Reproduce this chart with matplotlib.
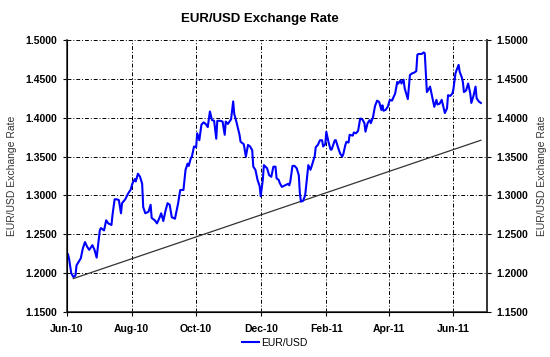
import matplotlib
matplotlib.use('Agg')
import matplotlib.pyplot as plt
import matplotlib.dates as mdates
import numpy as np
import pandas as pd

plt.rcParams['font.family'] = ['Liberation Sans', 'DejaVu Sans']

# days since 2010-06-01 and EUR/USD closes
start = pd.Timestamp('2010-06-01')
days = [0, 1, 2, 4, 6, 8, 9, 13, 15, 17, 19, 21, 24, 26, 28, 31, 32, 35, 37, 39,
        42, 43, 45, 47, 49, 51, 52, 55, 58, 60, 62, 64, 65, 67, 69, 71, 72, 74, 77, 79,
        80, 83, 85, 87, 89, 91, 93, 95, 97, 99, 102, 105, 107, 110, 112, 114, 115, 117, 118, 120,
        122, 123, 125, 127, 129, 131, 133, 135, 137, 139, 141, 142, 145, 147, 149, 150, 152, 155, 157, 158,
        160, 163, 164, 167, 169, 171, 173, 175, 176, 178, 180, 182, 183, 185, 186, 189, 191, 193, 195, 197,
        198, 200, 201, 203, 206, 209, 210, 211, 213, 215, 217, 219, 220, 221, 223, 225, 227, 228, 230, 231,
        233, 234, 235, 237, 239, 241, 242, 244, 245, 247, 249, 250, 253, 254, 256, 258, 260, 261, 263, 264,
        266, 267, 270, 271, 273, 275, 277, 279, 281, 282, 284, 286, 287, 289, 291, 293, 295, 297, 298, 299,
        301, 303, 305, 307, 310, 312, 313, 315, 316, 318, 319, 322, 323, 324, 326, 328, 330, 331, 332, 335,
        337, 338, 339, 340, 341, 343, 345, 346, 347, 349, 350, 352, 354, 356, 357, 359, 360, 362, 364, 365,
        367, 368, 370, 371, 373, 374, 375, 377, 379, 381, 382, 384, 386, 387, 389, 391]
rate = [1.226, 1.224, 1.218, 1.200, 1.195, 1.197, 1.210, 1.219, 1.232, 1.240, 1.234, 1.230, 1.236, 1.230, 1.220, 1.255, 1.258, 1.255, 1.268, 1.264,
        1.262, 1.275, 1.295, 1.295, 1.294, 1.277, 1.290, 1.295, 1.303, 1.307, 1.316, 1.321, 1.318, 1.328, 1.324, 1.315, 1.285, 1.277, 1.279, 1.288,
        1.271, 1.268, 1.264, 1.270, 1.277, 1.267, 1.280, 1.290, 1.288, 1.272, 1.270, 1.290, 1.307, 1.307, 1.333, 1.341, 1.338, 1.348, 1.350, 1.363,
        1.362, 1.380, 1.371, 1.391, 1.394, 1.392, 1.388, 1.408, 1.397, 1.396, 1.373, 1.396, 1.396, 1.395, 1.378, 1.395, 1.392, 1.398, 1.421, 1.405,
        1.395, 1.378, 1.369, 1.366, 1.350, 1.365, 1.363, 1.358, 1.337, 1.333, 1.320, 1.312, 1.299, 1.320, 1.339, 1.335, 1.326, 1.324, 1.337, 1.337,
        1.322, 1.320, 1.316, 1.311, 1.313, 1.315, 1.313, 1.318, 1.338, 1.338, 1.335, 1.326, 1.303, 1.292, 1.293, 1.300, 1.326, 1.339, 1.333, 1.337,
        1.346, 1.350, 1.362, 1.365, 1.371, 1.371, 1.363, 1.366, 1.382, 1.369, 1.359, 1.359, 1.371, 1.371, 1.362, 1.354, 1.350, 1.353, 1.365, 1.369,
        1.368, 1.378, 1.377, 1.381, 1.380, 1.383, 1.399, 1.398, 1.393, 1.382, 1.393, 1.397, 1.393, 1.400, 1.415, 1.422, 1.420, 1.410, 1.416, 1.409,
        1.410, 1.414, 1.423, 1.422, 1.431, 1.446, 1.444, 1.448, 1.444, 1.449, 1.438, 1.424, 1.440, 1.455, 1.457, 1.458, 1.460, 1.481, 1.482, 1.482,
        1.484, 1.483, 1.457, 1.433, 1.435, 1.440, 1.427, 1.420, 1.414, 1.423, 1.417, 1.418, 1.423, 1.412, 1.406, 1.412, 1.429, 1.428, 1.431, 1.436,
        1.457, 1.461, 1.468, 1.459, 1.452, 1.446, 1.433, 1.435, 1.444, 1.431, 1.419, 1.428, 1.440, 1.425, 1.421, 1.419]

trend_days = [6, 391]
trend_rate = [1.193, 1.371]

yticks = [1.15, 1.20, 1.25, 1.30, 1.35, 1.40, 1.45, 1.50]

dates = start + pd.to_timedelta(days, unit='D')
trend_dates = start + pd.to_timedelta(trend_days, unit='D')

fig = plt.figure(figsize=(5.5, 3.57), dpi=100)
ax = fig.add_axes([67/550, 1-312/357, 420/550, 272/357])

ax.plot(trend_dates, trend_rate, color='#333333', lw=0.9, zorder=2)
line, = ax.plot(dates, rate, color='#0000FF', lw=1.5, zorder=3, label='EUR/USD')

ax.set_xlim(start, start + pd.Timedelta(days=396.8))
ax.set_ylim(1.15, 1.50)
ax.set_yticks(yticks)
ax.yaxis.set_major_formatter(matplotlib.ticker.FormatStrFormatter('%.4f'))
ax.xaxis.set_major_locator(mdates.MonthLocator(bymonth=[2, 4, 6, 8, 10, 12]))
ax.xaxis.set_major_formatter(mdates.DateFormatter('%b-%y'))

ax.grid(True, color='black', linestyle=(0, (4, 2, 1, 2)), lw=0.7)
ax.spines['top'].set_visible(False)
for s in ['left', 'bottom', 'right']:
    ax.spines[s].set_linewidth(1.2)
    ax.spines[s].set_color('#333333')
ax.tick_params(axis='both', direction='out', length=3, width=0.8, labelsize=7.5, pad=4)
for lab in ax.get_xticklabels() + ax.get_yticklabels():
    lab.set_fontweight('bold')
ax.tick_params(axis='x', pad=6)
ax.set_ylabel('EUR/USD Exchange Rate', fontsize=7.5, color='#333333', labelpad=6)

ax2 = ax.twinx()
ax2.set_ylim(1.15, 1.50)
ax2.set_yticks(yticks)
ax2.yaxis.set_major_formatter(matplotlib.ticker.FormatStrFormatter('%.4f'))
ax2.spines['top'].set_visible(False)
ax2.spines['right'].set_linewidth(1.2)
ax2.spines['right'].set_color('#333333')
ax2.tick_params(axis='y', direction='out', length=3, width=0.8, labelsize=7.5, pad=4)
for lab in ax2.get_yticklabels():
    lab.set_fontweight('bold')
ax2.set_ylabel('EUR/USD Exchange Rate', fontsize=7.5, color='#333333', labelpad=6)

fig.text(260/550, 1-19/357, 'EUR/USD Exchange Rate', ha='center', va='center',
         fontsize=9.5, fontweight='bold')

fig.legend(handles=[line], loc='center', bbox_to_anchor=(275/550, 1-343/357),
           frameon=False, fontsize=7.5, handlelength=1.6, handletextpad=0.2)

fig.savefig('out.png', dpi=100)
